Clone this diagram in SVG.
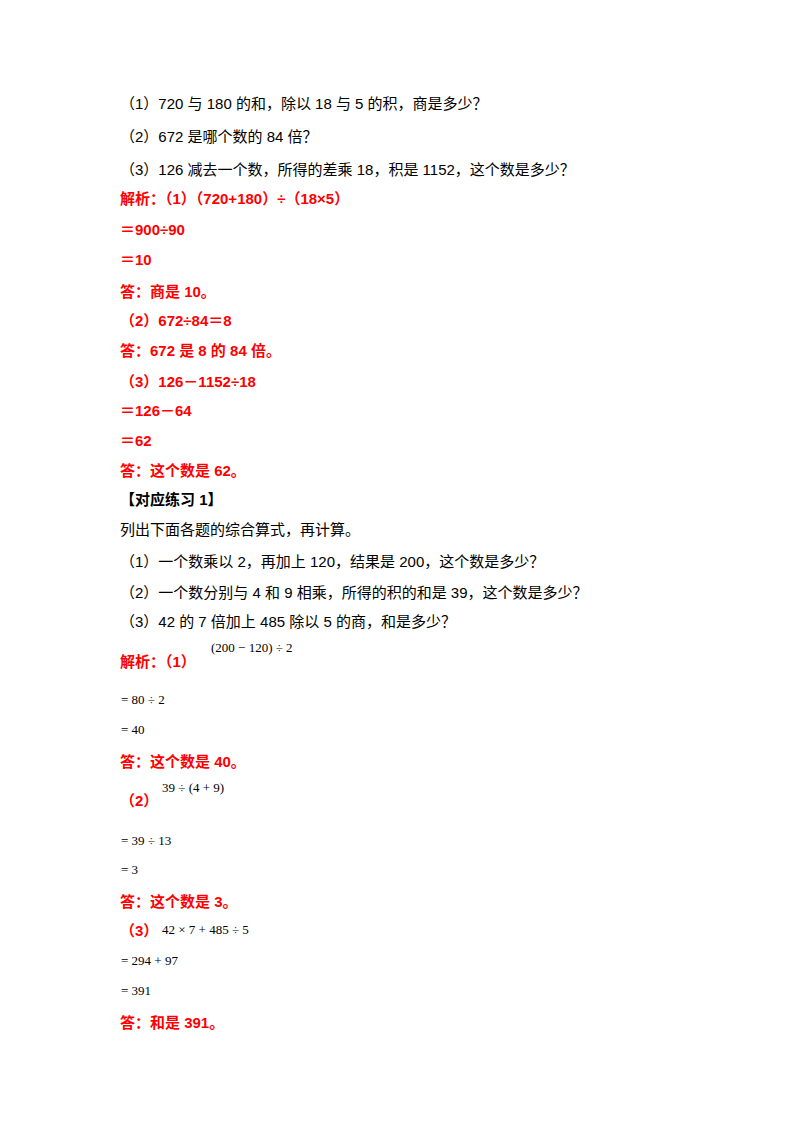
<svg xmlns="http://www.w3.org/2000/svg" width="800" height="1132" viewBox="0 0 800 1132">
<style>
text{font-family:"Liberation Sans","Noto Sans CJK SC",sans-serif;font-size:15px;fill:#000}
.r{fill:#ff0000;font-weight:bold}
.m{font-family:"Liberation Serif",serif;font-size:13px}
</style>
<rect width="800" height="1132" fill="#fff"/>
<text x="120" y="109">（1）720 与 180 的和，除以 18 与 5 的积，商是多少？</text>
<text x="120" y="142">（2）672 是哪个数的 84 倍？</text>
<text x="120" y="175">（3）126 减去一个数，所得的差乘 18，积是 1152，这个数是多少？</text>
<text class="r" x="120" y="204">解析：（1）（720+180）÷（18×5）</text>
<text class="r" x="120" y="235">＝900÷90</text>
<text class="r" x="120" y="265">＝10</text>
<text class="r" x="120" y="297">答：商是 10。</text>
<text class="r" x="120" y="326">（2）672÷84＝8</text>
<text class="r" x="120" y="356">答：672 是 8 的 84 倍。</text>
<text class="r" x="120" y="387">（3）126－1152÷18</text>
<text class="r" x="120" y="416">＝126－64</text>
<text class="r" x="120" y="446">＝62</text>
<text class="r" x="120" y="476">答：这个数是 62。</text>
<text font-weight="bold" x="120" y="505">【对应练习 1】</text>
<text x="120" y="535">列出下面各题的综合算式，再计算。</text>
<text x="120" y="567">（1）一个数乘以 2，再加上 120，结果是 200，这个数是多少？</text>
<text x="120" y="598">（2）一个数分别与 4 和 9 相乘，所得的积的和是 39，这个数是多少？</text>
<text x="120" y="627">（3）42 的 7 倍加上 485 除以 5 的商，和是多少？</text>
<text class="r" x="120" y="667">解析：（1）</text>
<text class="m" x="211" y="652">(200 − 120) ÷ 2</text>
<text class="m" x="121" y="704">= 80 ÷ 2</text>
<text class="m" x="121" y="734">= 40</text>
<text class="r" x="120" y="767">答：这个数是 40。</text>
<text class="r" x="120" y="806">（2）</text>
<text class="m" x="162" y="792">39 ÷ (4 + 9)</text>
<text class="m" x="121" y="845">= 39 ÷ 13</text>
<text class="m" x="121" y="874">= 3</text>
<text class="r" x="120" y="907">答：这个数是 3。</text>
<text class="r" x="120" y="936">（3）</text>
<text class="m" x="162" y="934">42 × 7 + 485 ÷ 5</text>
<text class="m" x="121" y="965">= 294 + 97</text>
<text class="m" x="121" y="995">= 391</text>
<text class="r" x="120" y="1028">答：和是 391。</text>
</svg>
